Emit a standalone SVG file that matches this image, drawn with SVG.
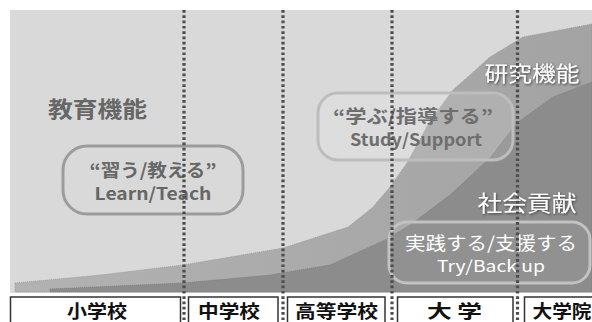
<svg xmlns="http://www.w3.org/2000/svg" width="592" height="322" viewBox="0 0 592 322">
<style>
.jp{font-family:"Noto Sans CJK JP","Noto Sans",sans-serif;text-anchor:middle}
.b{font-weight:bold}
.grey{fill:#676767}
.wt{fill:#ffffff;filter:url(#sh)}
.dot{stroke:#4d4d4d;stroke-width:3.2;stroke-dasharray:2.7 2.6;fill:none}
.stage{fill:#fff;stroke:#333;stroke-width:1.5}
.lbl{font-size:18px;font-weight:bold;fill:#111}
</style>
<defs>
<filter id="sh" x="-10%" y="-20%" width="130%" height="150%">
<feDropShadow dx="1" dy="1.2" stdDeviation="0.8" flood-color="#333" flood-opacity="0.8"/>
</filter>
<linearGradient id="gm" x1="0" y1="0" x2="1" y2="0">
<stop offset="0" stop-color="#b2b2b2"/>
<stop offset="1" stop-color="#a3a3a3"/>
</linearGradient>
</defs>
<rect x="0" y="0" width="592" height="322" fill="#ffffff"/>
<g id="background">
<rect x="10" y="10" width="582" height="283" fill="#d9d9d9"/>
<path id="research-area" d="M15,283 L100,275 L183,265 L283,248 L348,227 L372,208 L390,187 L407,163 L430,121 L453,90 L490,57 L523,37 L592,24 L592,292 L15,292 Z" fill="url(#gm)" stroke="#8a8a8a" stroke-width="0.6" stroke-dasharray="1 1"/>
<path id="social-area" d="M50,289 L183,283 L270,275 L330,265 L385,240 L410,225 L450,195 L490,158 L517,123 L553,97 L592,82 L592,292 L50,292 Z" fill="#8c8c8c" stroke="#6f6f6f" stroke-width="0.6" stroke-dasharray="1 1"/>
</g>
<g id="label-education">
<text class="jp b grey" x="97.5" y="117" font-size="22" textLength="99" lengthAdjust="spacingAndGlyphs">教育機能</text>
</g>
<g id="label-research">
<text class="jp wt" x="532" y="81" font-size="21" textLength="95" lengthAdjust="spacingAndGlyphs">研究機能</text>
</g>
<g id="label-social">
<text class="jp wt" x="527" y="211" font-size="22" textLength="99" lengthAdjust="spacingAndGlyphs">社会貢献</text>
</g>
<g id="box-learn">
<rect x="63" y="146" width="180" height="68" rx="24" fill="none" stroke="#9c9c9c" stroke-width="3"/>
<text class="jp b grey" x="153" y="177" font-size="18" textLength="127" lengthAdjust="spacingAndGlyphs">“習う/教える”</text>
<text class="jp b grey" x="153" y="200" font-size="17" textLength="117" lengthAdjust="spacingAndGlyphs">Learn/Teach</text>
</g>
<g id="box-study">
<rect x="318" y="93" width="195" height="67" rx="20" fill="#ffffff" fill-opacity="0.12" stroke="#bdbdbd" stroke-width="3"/>
<text class="jp b" fill="#6e6e6e" x="413" y="123" font-size="18" textLength="160" lengthAdjust="spacingAndGlyphs">“学ぶ/指導する”</text>
<text class="jp b" fill="#6e6e6e" x="416" y="146" font-size="17" textLength="132" lengthAdjust="spacingAndGlyphs">Study/Support</text>
</g>
<g id="box-try">
<rect x="389" y="222" width="201" height="61" rx="18" fill="#ffffff" fill-opacity="0.05" stroke="#c2c2c2" stroke-width="3"/>
<text class="jp" fill="#ffffff" x="491" y="250" font-size="18" textLength="172" lengthAdjust="spacingAndGlyphs">実践する/支援する</text>
<text class="jp" fill="#ffffff" x="491" y="272" font-size="16" textLength="108" lengthAdjust="spacingAndGlyphs">Try/Back up</text>
</g>
<g id="stage-elementary">
<rect class="stage" x="10.5" y="297" width="170" height="30"/>
<text class="jp lbl" x="97" y="318" textLength="60" lengthAdjust="spacingAndGlyphs">小学校</text>
</g>
<g id="stage-junior">
<rect class="stage" x="188.5" y="297" width="89.5" height="30"/>
<text class="jp lbl" x="229" y="318" textLength="62" lengthAdjust="spacingAndGlyphs">中学校</text>
</g>
<g id="stage-high">
<rect class="stage" x="287.5" y="297" width="97.5" height="30"/>
<text class="jp lbl" x="336.5" y="318" textLength="83" lengthAdjust="spacingAndGlyphs">高等学校</text>
</g>
<g id="stage-university">
<rect class="stage" x="397.5" y="297" width="115.5" height="30"/>
<text class="jp lbl" x="454.5" y="318" textLength="55" lengthAdjust="spacingAndGlyphs" xml:space="preserve">大 学</text>
</g>
<g id="stage-graduate">
<rect class="stage" x="524.5" y="297" width="72" height="30"/>
<text class="jp lbl" x="562" y="318" textLength="59" lengthAdjust="spacingAndGlyphs">大学院</text>
</g>
<g id="connectors">
<line class="dot" x1="184" y1="10" x2="184" y2="322"/>
<line class="dot" x1="283" y1="10" x2="283" y2="322"/>
<line class="dot" x1="392" y1="10" x2="392" y2="322"/>
<line class="dot" x1="517.5" y1="10" x2="517.5" y2="322"/>
</g>
</svg>
